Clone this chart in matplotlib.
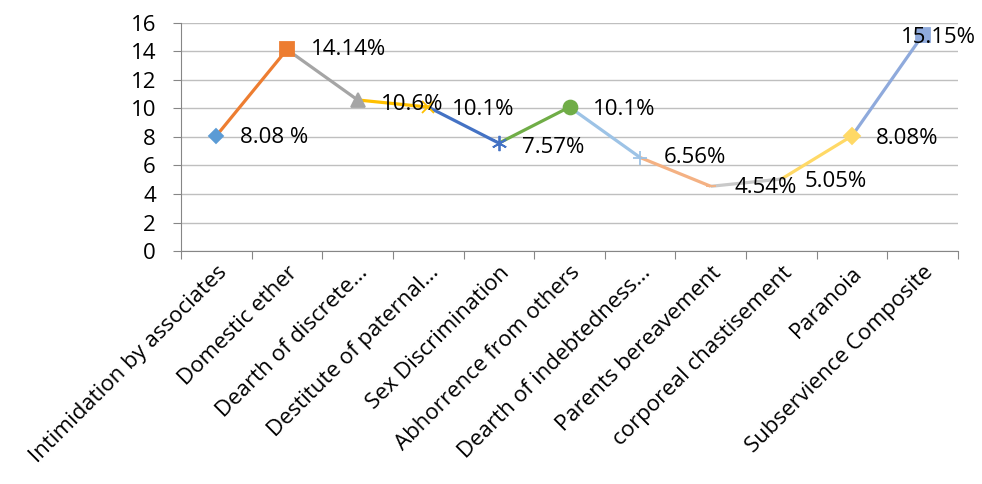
import matplotlib.pyplot as plt

# Data
categories = ['Intimidation by associates', 'Domestic ether', 'Dearth of discrete...',
              'Destitute of paternal...', 'Sex Discrimination', 'Abhorrence from others',
              'Dearth of indebtedness...', 'Parents bereavement', 'corporeal chastisement',
              'Paranoia', 'Subservience Composite']
values = [8.08, 14.14, 10.6, 10.1, 7.57, 10.1, 6.56, 4.54, 5.05, 8.08, 15.15]
labels = ['8.08 %', '14.14%', '10.6%', '10.1%', '7.57%', '10.1%', '6.56%',
          '4.54%', '5.05%', '8.08%', '15.15%']

# Excel-style "vary colours by point"
colors = ['#5B9BD5', '#ED7D31', '#A5A5A5', '#FFC000', '#4472C4', '#70AD47',
          '#9DC3E6', '#F4B183', '#C9C9C9', '#FFD966', '#8FAADC']
markers = ['D', 's', '^', 'x', (6, 2, 0), 'o', '+', '_', '_', 'D', 's']
msizes = [7, 10, 10, 9, 11, 10, 10, 7, 7, 8, 10]

plt.rcParams['font.family'] = ['Open Sans', 'DejaVu Sans']
fs = 16

fig = plt.figure(figsize=(9.82, 4.84), dpi=100)
ax = fig.add_axes([0.1843, 0.4814, 0.7913, 0.4711])

x = list(range(len(values)))
for i in range(1, len(values)):
    ax.plot(x[i-1:i+1], values[i-1:i+1], color=colors[i], lw=2.3,
            solid_capstyle='butt', zorder=2)
for i in range(len(values)):
    ax.plot(x[i], values[i], marker=markers[i], ms=msizes[i], color=colors[i],
            mec=colors[i], mew=1.3, ls='none', zorder=3)

# data labels
offsets = [(17, -1), (17, 0), (17, -3), (17, -2), (17, -3), (17, -2), (17, 0),
           (17, -1), (17, -2), (17, -2), (-16, -2)]
for i, (lab, off) in enumerate(zip(labels, offsets)):
    ax.annotate(lab, (x[i], values[i]), xytext=off, textcoords='offset points',
                ha='left', va='center', fontsize=fs, color='#000000', zorder=4)

ax.set_xlim(-0.5, len(values) - 0.5)
ax.set_ylim(0, 16)
ax.set_yticks(range(0, 17, 2))
ax.yaxis.grid(True, color='#BFBFBF', lw=1)
ax.set_axisbelow(True)

# category boundaries as tick marks, labels at centres
ax.set_xticks([i - 0.5 for i in range(len(values) + 1)])
ax.set_xticklabels([])
ax.set_xticks(x, minor=True)
ax.set_xticklabels(categories, minor=True, rotation=45, ha='right',
                   rotation_mode='anchor', fontsize=fs)
ax.tick_params(axis='x', which='minor', length=0, pad=8)
ax.tick_params(axis='x', which='major', length=6, color='#868686')
ax.tick_params(axis='y', length=6, color='#868686', labelsize=fs, pad=12)

for s in ['top', 'right']:
    ax.spines[s].set_visible(False)
for s in ['left', 'bottom']:
    ax.spines[s].set_color('#868686')

fig.savefig('out.png', dpi=100)
